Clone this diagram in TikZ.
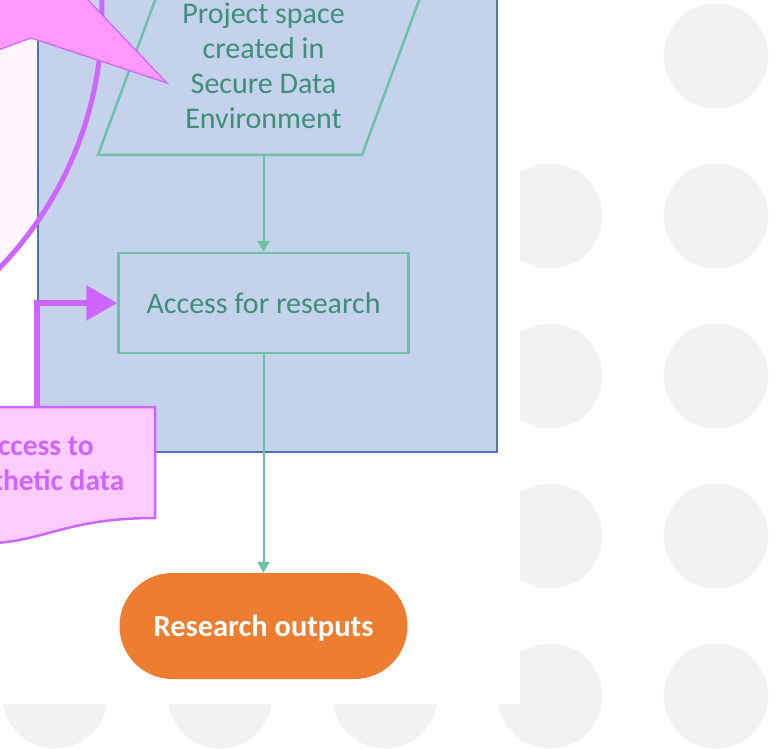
\documentclass[tikz,border=0pt]{standalone}
\usepackage{fontspec}
\setmainfont{Carlito}
\usetikzlibrary{arrows.meta}
\definecolor{gcirc}{HTML}{F2F2F2}
\definecolor{cblue}{HTML}{C4D3EB}
\definecolor{cblueline}{HTML}{5273B0}
\definecolor{tealline}{HTML}{6EC1A9}
\definecolor{tealtxt}{HTML}{3E8E7A}
\definecolor{purp}{HTML}{CC66FF}
\definecolor{pinkfill}{HTML}{FF99FF}
\definecolor{pinkbox}{HTML}{FFCCFF}
\definecolor{palepink}{HTML}{FFF6FF}
\definecolor{orng}{HTML}{ED7D31}
\tikzset{
  txt/.style={font=\fontsize{30}{35}\selectfont, align=center},
  tealbox/.style={draw=tealline, line width=2.5pt, text=tealtxt, txt},
  flowarrow/.style={draw=tealline, line width=2pt, -{Triangle[length=11pt,width=12pt]}},
  synarrow/.style={draw=purp, line width=6pt, -{Triangle[length=31pt,width=34pt]}},
  terminal/.style={fill=orng, rounded corners=53pt, text=white, font=\fontsize{30.5}{35}\selectfont\bfseries},
}
\begin{document}
\begin{tikzpicture}[x=1pt,y=-1pt]
\useasboundingbox (0,0) rectangle (782,749);
\clip (0,0) rectangle (782,749);
\fill[white] (0,0) rectangle (782,749);
% background dots
\foreach \yy in {56,216,376,536,696} \fill[gcirc] (716,\yy) circle (52.5pt);
\foreach \yy in {216,376,536,696} \fill[gcirc] (550,\yy) circle (52.5pt);
\foreach \xx in {55,220,385} \fill[gcirc] (\xx,696) circle (52.5pt);
\fill[white] (0,0) rectangle (520,704);
% pale circle
\fill[palepink] (-264,14) circle (366pt);
% container
\draw[cblueline, fill=cblue, line width=1.5pt] (38,-20) rectangle (497,452);
% arc
\draw[purp, line width=5pt] (-264,14) circle (366pt);
% parallelogram
\coordinate (pA) at (98,155);
\coordinate (pB) at (362,155);
\coordinate (pC) at (428,-24);
\coordinate (pD) at (164,-24);
\draw[tealline, line width=2.5pt, line join=miter] (pA) -- (pB) -- (pC) -- (pD) -- cycle;
\node[txt, text=tealtxt] (proj) at (263.5,66) {Project space\\created in\\Secure Data\\Environment};
\coordinate (projB) at (263.5,155);
% pointer shape
\draw[purp, fill=pinkfill, line width=1.2pt, line join=miter] (-10,-10) -- (78.5,-10) -- (167,83) -- (31,38) -- (-10,53) -- cycle;
% access box
\node[tealbox, minimum width=290pt, minimum height=100pt] (acc) at (263.5,303) {Access for research};
% research outputs
\node[terminal, minimum width=288pt, minimum height=106pt] (res) at (263.5,626) {\raisebox{-3pt}[21pt][7pt]{Research outputs}};
% flow arrows
\draw[flowarrow] (projB) -- (acc.north);
\draw[flowarrow] (acc.south) -- (res.north);
% synthetic data callout
\coordinate (sTL) at (-81,407);
\coordinate (sTR) at (155,407);
\coordinate (sBR) at (155,518);
\coordinate (sBL) at (-81,536);
\coordinate (synTop) at (37,407);
\draw[synarrow] (synTop) |- (acc.west);
\draw[purp, fill=pinkbox, line width=2.5pt] (sTL) -- (sTR) -- (sBR) .. controls (37,518) and (37,560) .. (sBL) -- cycle;
\node[txt, text=purp, font=\fontsize{29.5}{35}\selectfont\bfseries] (syn) at (37,465.5) {Access to\\Synthetic data};
\end{tikzpicture}
\end{document}
